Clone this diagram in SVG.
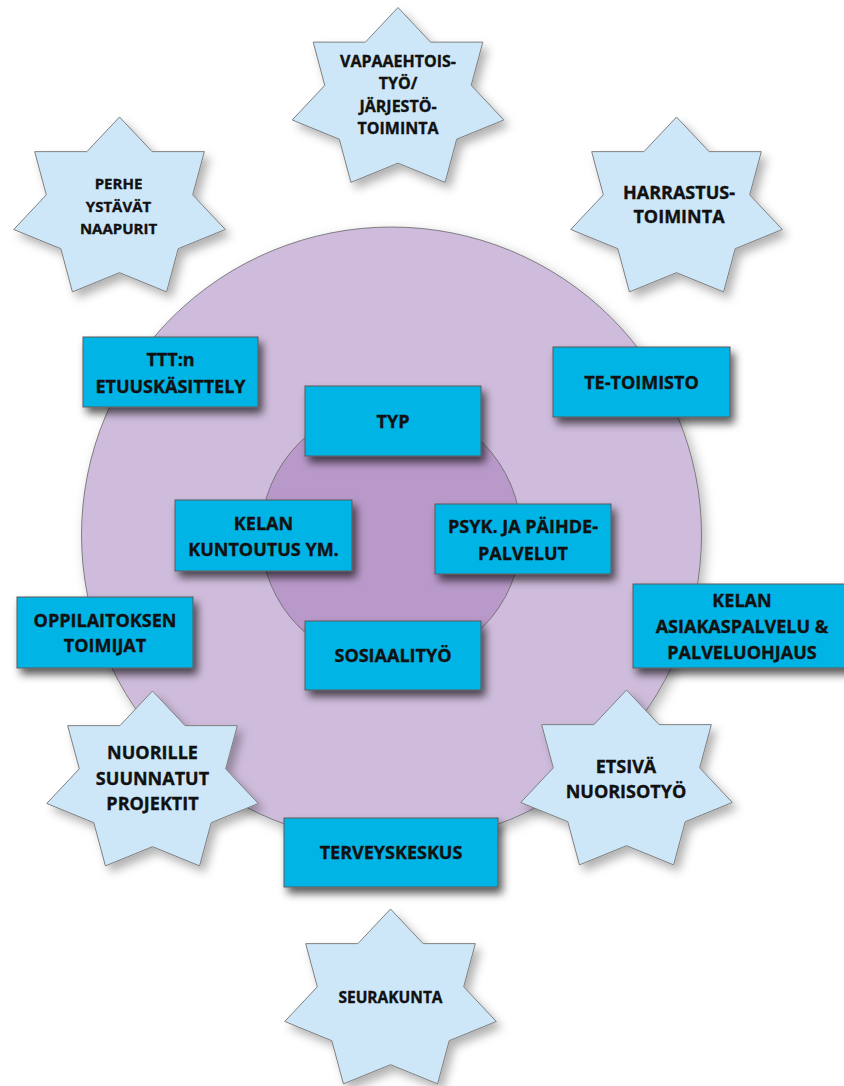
<svg xmlns="http://www.w3.org/2000/svg" xmlns:xlink="http://www.w3.org/1999/xlink" width="844" height="1086" viewBox="0 0 844 1086">
<style>
.box{fill:#00B4E6;stroke:#5a5a5a;stroke-width:1;filter:url(#shBox)}
.star{fill:#CDE7F9;stroke:#7f7f7f;stroke-width:1;filter:url(#shStar)}
.t{font-family:"Open Sans","Liberation Sans",sans-serif;font-weight:700;fill:#111;stroke:#111;stroke-width:0.35;text-anchor:middle}
.b{font-size:18px}
</style>
<defs>
<filter id="shBox" x="-20%" y="-30%" width="150%" height="170%">
<feDropShadow dx="4" dy="6" stdDeviation="4" flood-color="#000" flood-opacity="0.65"/>
</filter>
<filter id="shStar" x="-20%" y="-20%" width="150%" height="150%">
<feDropShadow dx="5" dy="6" stdDeviation="5" flood-color="#000" flood-opacity="0.3"/>
</filter>
<filter id="shEll" x="-10%" y="-10%" width="125%" height="125%">
<feDropShadow dx="4" dy="5" stdDeviation="6" flood-color="#000" flood-opacity="0.28"/>
</filter>
<path id="star" d="M0,-92 L32.58,-57.36 L84.83,-57.36 L73.2,-14.17 L105.78,20.47 L58.7,39.69 L47.08,82.89 L0,63.66 L-47.08,82.89 L-58.7,39.69 L-105.78,20.47 L-73.2,-14.17 L-84.83,-57.36 L-32.58,-57.36 Z"/>
</defs>
<rect width="844" height="1086" fill="#fff"/>
<g id="outer-ring">
<ellipse cx="391.5" cy="535" rx="310" ry="308" fill="#CFBCDC" stroke="#666" stroke-width="0.8" filter="url(#shEll)"/>
</g>
<g id="inner-ring">
<ellipse cx="391" cy="535" rx="130" ry="130" fill="#B999C9" stroke="#666" stroke-width="0.8"/>
</g>
<g id="connectors"/>
<g id="ttt">
<rect class="box" x="83" y="337" width="175" height="70"/>
<text class="t b" x="170.5" y="365.5">TTT:n</text>
<text class="t b" x="170.5" y="392.5">ETUUSKÄSITTELY</text>
</g>
<g id="te-toimisto">
<rect class="box" x="553" y="347" width="177" height="70"/>
<text class="t b" x="641.5" y="388.5">TE-TOIMISTO</text>
</g>
<g id="typ">
<rect class="box" x="305" y="386" width="176" height="70"/>
<text class="t b" x="393" y="427.5">TYP</text>
</g>
<g id="kelan-kuntoutus">
<rect class="box" x="175" y="500" width="177" height="71"/>
<text class="t b" x="263.5" y="529.5">KELAN</text>
<text class="t b" x="263.5" y="556">KUNTOUTUS YM.</text>
</g>
<g id="psyk">
<rect class="box" x="435" y="504" width="176" height="70"/>
<text class="t b" x="523" y="533">PSYK. JA PÄIHDE-</text>
<text class="t b" x="523" y="559.5">PALVELUT</text>
</g>
<g id="oppilaitos">
<rect class="box" x="17" y="597" width="176" height="71"/>
<text class="t b" x="105" y="626.5">OPPILAITOKSEN</text>
<text class="t b" x="105" y="652">TOIMIJAT</text>
</g>
<g id="sosiaalityo">
<rect class="box" x="305" y="621" width="176" height="69"/>
<text class="t b" x="393" y="661.5">SOSIAALITYÖ</text>
</g>
<g id="kelan-asiakaspalvelu">
<rect class="box" x="633" y="584" width="218" height="84"/>
<text class="t b" x="742" y="606.5">KELAN</text>
<text class="t b" x="742" y="633">ASIAKASPALVELU &amp;</text>
<text class="t b" x="742" y="658.5">PALVELUOHJAUS</text>
</g>
<g id="terveyskeskus">
<rect class="box" x="284" y="818" width="214" height="69"/>
<text class="t b" x="391" y="859">TERVEYSKESKUS</text>
</g>
<g id="vapaaehtoistyo">
<use href="#star" class="star" x="398" y="99.5"/>
<text class="t" font-size="16" x="398" y="66.5">VAPAAEHTOIS-</text>
<text class="t" font-size="16" x="398" y="89">TYÖ/</text>
<text class="t" font-size="16" x="398" y="111.5">JÄRJESTÖ-</text>
<text class="t" font-size="16" x="398" y="134">TOIMINTA</text>
</g>
<g id="perhe">
<use href="#star" class="star" x="119.5" y="209"/>
<text class="t" font-size="15" x="118.5" y="188.5">PERHE</text>
<text class="t" font-size="15" x="118.5" y="211.5">YSTÄVÄT</text>
<text class="t" font-size="15" x="118.5" y="234">NAAPURIT</text>
</g>
<g id="harrastustoiminta">
<use href="#star" class="star" x="676.5" y="209"/>
<text class="t b" x="679" y="198.5">HARRASTUS-</text>
<text class="t b" x="679" y="223">TOIMINTA</text>
</g>
<g id="nuorille">
<use href="#star" class="star" x="152.5" y="783"/>
<text class="t b" x="152.5" y="759">NUORILLE</text>
<text class="t b" x="152.5" y="784.5">SUUNNATUT</text>
<text class="t b" x="152.5" y="809.5">PROJEKTIT</text>
</g>
<g id="etsiva">
<use href="#star" class="star" x="626.5" y="782"/>
<text class="t b" x="626" y="773">ETSIVÄ</text>
<text class="t b" x="626" y="798">NUORISOTYÖ</text>
</g>
<g id="seurakunta">
<use href="#star" class="star" x="390.5" y="1001"/>
<text class="t" font-size="15.5" x="390.5" y="1003">SEURAKUNTA</text>
</g>
</svg>
